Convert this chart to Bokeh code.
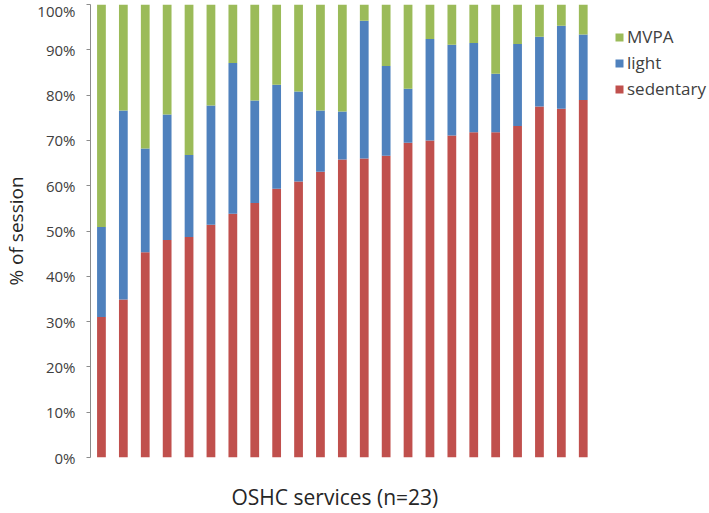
from bokeh.plotting import figure
from bokeh.models import ColumnDataSource, Range1d, FixedTicker, Legend, LegendItem, Title
from bokeh.embed import file_html
from bokeh.resources import INLINE

services = list(range(1, 24))
sedentary = [31.0, 34.9, 45.3, 48.0, 48.7, 51.4, 53.8, 56.2, 59.3, 60.9, 63.1, 65.8,
             66.0, 66.6, 69.5, 70.0, 71.1, 71.8, 71.8, 73.2, 77.5, 77.0, 78.9]
light = [19.9, 41.7, 22.9, 27.7, 18.1, 26.3, 33.3, 22.6, 23.0, 19.9, 13.5, 10.6,
         30.4, 19.8, 11.9, 22.4, 20.0, 19.7, 12.9, 18.1, 15.4, 18.3, 14.5]
mvpa = [49.1, 23.4, 31.8, 24.3, 33.2, 22.3, 12.9, 21.2, 17.7, 19.2, 23.4, 23.6,
        3.6, 13.6, 18.6, 7.6, 8.9, 8.5, 15.3, 8.7, 7.1, 4.7, 6.6]
y_ticks = [0, 10, 20, 30, 40, 50, 60, 70, 80, 90, 100]
y_tick_labels = ["0%", "10%", "20%", "30%", "40%", "50%", "60%", "70%", "80%", "90%", "100%"]
series = ["sedentary", "light", "mvpa"]
series_labels = ["sedentary", "light", "MVPA"]
colors = ["#C0504D", "#4F81BD", "#9BBB59"]

FONT = "Open Sans"
TXT = "#404040"

# frame spans the bar area plus the legend area on the right
FRAME_W = 618
SLOT_PX = 21.9
x_end = 0.5 + FRAME_W / SLOT_PX

source = ColumnDataSource(dict(x=services, sedentary=sedentary, light=light, mvpa=mvpa))

p = figure(frame_width=FRAME_W, frame_height=453, output_backend="svg", toolbar_location=None,
           x_range=Range1d(0.5, x_end), y_range=Range1d(0, 100),
           x_axis_location=None, min_border_left=83, min_border_top=4,
           min_border_bottom=48, min_border_right=0)

renderers = p.vbar_stack(series, x="x", width=0.4, color=colors, line_color=None, source=source)

p.xgrid.visible = False
p.ygrid.visible = False
p.outline_line_color = None
p.background_fill_color = "white"
p.border_fill_color = "white"

ya = p.yaxis[0]
ya.ticker = FixedTicker(ticks=y_ticks)
ya.major_label_overrides = {t: l for t, l in zip(y_ticks, y_tick_labels)}
ya.minor_tick_line_color = None
ya.major_tick_in = 0
ya.major_tick_out = 4
ya.axis_line_color = "#8C8C8C"
ya.major_tick_line_color = "#8C8C8C"
ya.major_label_text_font = FONT
ya.major_label_text_font_size = "15px"
ya.major_label_text_color = TXT
ya.major_label_standoff = 11
ya.axis_label = "% of session"
ya.axis_label_text_font = FONT
ya.axis_label_text_font_size = "19px"
ya.axis_label_text_font_style = "normal"
ya.axis_label_text_color = "#262626"
ya.axis_label_standoff = 5

t = Title(text="OSHC services (n=23)", align="left", offset=141, standoff=46,
          text_font=FONT, text_font_size="21px", text_font_style="normal", text_color="#262626")
p.add_layout(t, "below")

items = [LegendItem(label=lab, renderers=[r]) for lab, r in zip(series_labels, renderers)]
items = items[::-1]
legend = Legend(items=items, location=(524, 357), padding=0, spacing=3,
                glyph_width=10, glyph_height=10, label_height=16, label_standoff=3,
                label_text_font=FONT, label_text_font_size="17px", label_text_color=TXT,
                border_line_color=None, background_fill_alpha=0)
p.add_layout(legend, "center")

open("out.html", "w").write(file_html(p, INLINE))
